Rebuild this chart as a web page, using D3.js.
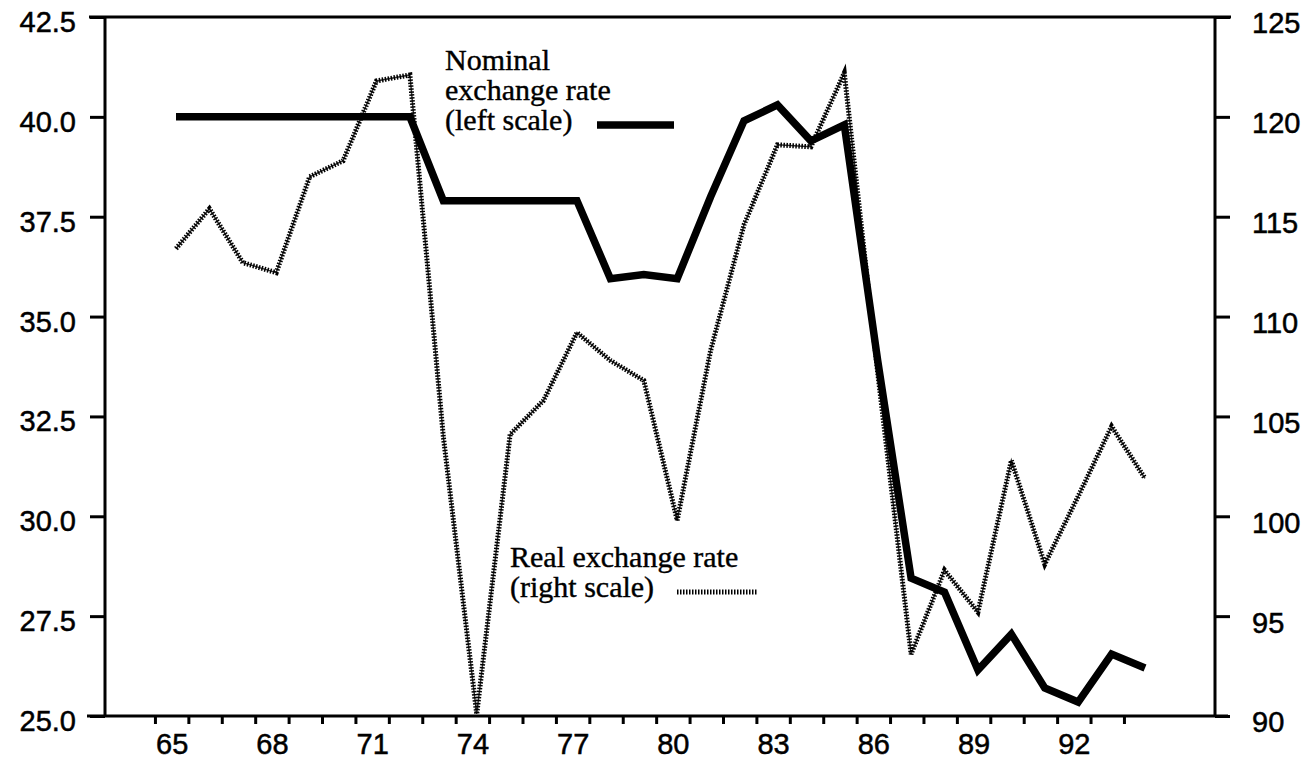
<!DOCTYPE html>
<html>
<head>
<meta charset="utf-8">
<script src="https://cdn.jsdelivr.net/npm/d3@7"></script>
<style>
  body { margin: 0; background: #fff; }
  svg { display: block; }
</style>
</head>
<body>
<svg id="chart"></svg>
<script>
// yearly observations, 1965 - 1994
var years = [1965, 1966, 1967, 1968, 1969, 1970, 1971, 1972, 1973, 1974,
             1975, 1976, 1977, 1978, 1979, 1980, 1981, 1982, 1983, 1984,
             1985, 1986, 1987, 1988, 1989, 1990, 1991, 1992, 1993, 1994];

// nominal exchange rate (left scale)
var nominal = [40.0, 40.0, 40.0, 40.0, 40.0, 40.0, 40.0, 40.0, 37.9, 37.9,
               37.9, 37.9, 37.9, 35.95, 36.05, 35.95, 38.0, 39.9, 40.3, 39.4,
               39.8, 33.9, 28.45, 28.1, 26.15, 27.05, 25.7, 25.35, 26.55, 26.2];

// real exchange rate (right scale)
var real = [113.4, 115.4, 112.7, 112.2, 117.0, 117.8, 121.8, 122.1, 104.0, 90.1,
            104.1, 105.8, 109.2, 107.8, 106.8, 99.8, 108.3, 114.6, 118.6, 118.5,
            122.2, 107.2, 93.1, 97.3, 95.2, 102.8, 97.6, 101.0, 104.5, 101.9];

var leftTicks = [25, 27.5, 30, 32.5, 35, 37.5, 40, 42.5];
var rightTicks = [90, 95, 100, 105, 110, 115, 120, 125];
var labelYears = [1965, 1968, 1971, 1974, 1977, 1980, 1983, 1986, 1989, 1992];

var width = 1309, height = 761;
var plotL = 105, plotR = 1215, plotT = 17, plotB = 716;

var svg = d3.select("#chart")
    .attr("width", width)
    .attr("height", height);

var x = d3.scaleLinear().domain([1965, 1994]).range([176, 1145]);
var yL = d3.scaleLinear().domain([25, 42.5]).range([plotB, plotT]);
var yR = d3.scaleLinear().domain([90, 125]).range([plotB, plotT]);

// year ticks sit a bit before each observation, labels near it
var tickShift = 0.63, labelShift = 0.13;

var sans = "'Liberation Sans', Arial, sans-serif";
var serif = "'Liberation Serif', 'Times New Roman', serif";

// left axis
var gl = svg.append("g")
    .attr("transform", "translate(" + plotL + ",0)")
    .call(d3.axisLeft(yL).tickValues(leftTicks).tickFormat(d3.format(".1f"))
        .tickSize(15).tickSizeOuter(0).tickPadding(14));

// right axis
var gr = svg.append("g")
    .attr("transform", "translate(" + plotR + ",0)")
    .call(d3.axisRight(yR).tickValues(rightTicks).tickFormat(d3.format("d"))
        .tickSize(15).tickSizeOuter(0).tickPadding(22));

// bottom axis: ticks every year
var gb = svg.append("g")
    .attr("transform", "translate(0," + plotB + ")")
    .call(d3.axisBottom(x).tickValues(years.map(function(d) { return d - tickShift; }))
        .tickFormat("").tickSize(8).tickSizeOuter(0));

// bottom labels every third year
var gbl = svg.append("g")
    .attr("transform", "translate(0," + plotB + ")")
    .call(d3.axisBottom(x).tickValues(labelYears.map(function(d) { return d - labelShift; }))
        .tickFormat(function(d) { return String(Math.round(d + labelShift)).slice(2); })
        .tickSize(0).tickPadding(17));

[gl, gr, gb, gbl].forEach(function(g) {
    g.select(".domain").remove();
    g.selectAll("line").attr("stroke", "#000").attr("stroke-width", 3);
    g.selectAll("text")
        .attr("fill", "#000")
        .attr("stroke", "#000")
        .attr("stroke-width", 0.5)
        .style("font-family", sans)
        .style("font-size", "29px");
});
gl.selectAll("text").attr("dy", "0.5em");
gr.selectAll("text").attr("dy", "0.55em");

// frame
var frame = svg.append("g").attr("stroke", "#000").attr("stroke-width", 3);
frame.append("line").attr("x1", 89).attr("x2", 1231).attr("y1", plotT).attr("y2", plotT);
frame.append("line").attr("x1", 87).attr("x2", 1228).attr("y1", plotB).attr("y2", plotB);
frame.append("line").attr("x1", plotL).attr("x2", plotL).attr("y1", plotT).attr("y2", plotB);
frame.append("line").attr("x1", plotR).attr("x2", plotR).attr("y1", plotT).attr("y2", plotB);

// real exchange rate: hatched thin line
var realLine = d3.line()
    .x(function(d, i) { return x(years[i]); })
    .y(function(d) { return yR(d); });

svg.append("path")
    .datum(real)
    .attr("fill", "none")
    .attr("stroke", "#000")
    .attr("stroke-width", 1.5)
    .attr("stroke-opacity", 0.8)
    .attr("d", realLine);

svg.append("path")
    .datum(real)
    .attr("fill", "none")
    .attr("stroke", "#000")
    .attr("stroke-width", 5)
    .attr("stroke-dasharray", "1.5 1.5")
    .attr("d", realLine);

// nominal exchange rate: heavy line
var nominalLine = d3.line()
    .x(function(d, i) { return x(years[i]); })
    .y(function(d) { return yL(d); });

svg.append("path")
    .datum(nominal)
    .attr("fill", "none")
    .attr("stroke", "#000")
    .attr("stroke-width", 7.5)
    .attr("stroke-linejoin", "miter")
    .attr("stroke-miterlimit", 3)
    .attr("d", nominalLine);

// legends
var legend = svg.append("g")
    .style("font-family", serif)
    .style("font-size", "30px")
    .attr("fill", "#000")
    .attr("stroke", "#000")
    .attr("stroke-width", 0.4);

legend.append("text").attr("x", 445).attr("y", 70).text("Nominal");
legend.append("text").attr("x", 445).attr("y", 100).text("exchange rate");
legend.append("text").attr("x", 445).attr("y", 130).text("(left scale)");
svg.append("line")
    .attr("x1", 597).attr("x2", 674).attr("y1", 125).attr("y2", 125)
    .attr("stroke", "#000").attr("stroke-width", 7.5);

legend.append("text").attr("x", 510).attr("y", 567).text("Real exchange rate");
legend.append("text").attr("x", 510).attr("y", 597).text("(right scale)");
svg.append("line")
    .attr("x1", 677).attr("x2", 757).attr("y1", 592).attr("y2", 592)
    .attr("stroke", "#000").attr("stroke-width", 5)
    .attr("stroke-dasharray", "1.5 1.5");
</script>
</body>
</html>
